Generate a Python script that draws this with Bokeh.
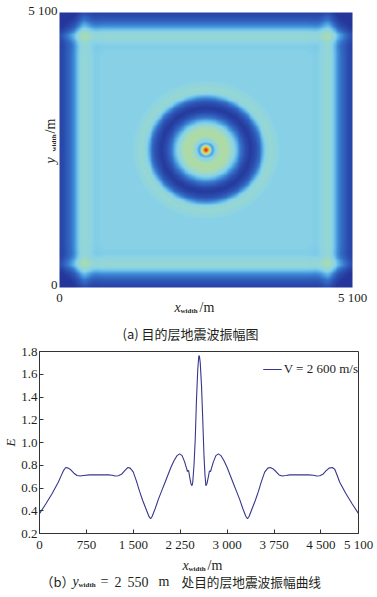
import numpy as np
from bokeh.plotting import figure
from bokeh.layouts import column
from bokeh.models import Range1d, FixedTicker, Label, LinearColorMapper, Legend, LegendItem
from bokeh.embed import file_html
from bokeh.resources import INLINE

# ---------------- data ----------------
x_m = [0, 100, 200, 300, 340, 380, 420, 460, 500, 550, 600, 650, 700, 800, 900, 1000,
       1100, 1160, 1210, 1260, 1310, 1360, 1410, 1450, 1500, 1550, 1600, 1650, 1700,
       1750, 1776, 1800, 1850, 1900, 1950, 2000, 2050, 2100, 2150, 2200, 2240, 2280,
       2320, 2350, 2365, 2375, 2385, 2400, 2420, 2438, 2450, 2470, 2490, 2510, 2530,
       2545, 2550, 2558, 2570, 2590, 2610, 2630, 2645, 2660, 2678, 2700, 2715, 2725,
       2735, 2750, 2780, 2820, 2860, 2900, 2950, 3000, 3050, 3100, 3150, 3200, 3250,
       3300, 3325, 3350, 3400, 3450, 3500, 3550, 3600, 3650, 3690, 3730, 3780, 3830,
       3880, 3940, 4000, 4100, 4200, 4300, 4380, 4430, 4480, 4530, 4580, 4630, 4680,
       4720, 4760, 4800, 4900, 5000, 5100]
e_vals = [0.375, 0.46, 0.55, 0.65, 0.70, 0.75, 0.78, 0.775, 0.76, 0.73, 0.71, 0.706,
          0.71, 0.715, 0.715, 0.715, 0.715, 0.712, 0.706, 0.708, 0.72, 0.75, 0.78,
          0.775, 0.74, 0.66, 0.57, 0.49, 0.42, 0.35, 0.33, 0.35, 0.42, 0.50, 0.57, 0.64,
          0.71, 0.78, 0.84, 0.885, 0.90, 0.885, 0.83, 0.775, 0.745, 0.755, 0.75, 0.70,
          0.64, 0.62, 0.65, 0.80, 1.03, 1.38, 1.64, 1.75, 1.765, 1.755, 1.70, 1.50,
          1.20, 0.88, 0.72, 0.62, 0.64, 0.70, 0.745, 0.75, 0.745, 0.775, 0.83, 0.885,
          0.90, 0.885, 0.84, 0.78, 0.71, 0.64, 0.57, 0.50, 0.42, 0.35, 0.33, 0.35,
          0.42, 0.49, 0.57, 0.66, 0.74, 0.775, 0.78, 0.77, 0.745, 0.715, 0.706, 0.71,
          0.715, 0.715, 0.715, 0.715, 0.712, 0.706, 0.708, 0.72, 0.75, 0.775, 0.78,
          0.765, 0.71, 0.65, 0.55, 0.46, 0.375]

side_m = 5100
center_m = 2550
plateau_e = 0.715
ring_extent_m = 1300
edge_extent_m = 1000

map_ticks = [0, 5100]
map_tick_labels = ["0", "5 100"]
x_ticks = [0, 750, 1500, 2250, 3000, 3750, 4500, 5100]
x_tick_labels = ["0", "750", "1 500", "2 250", "3 000", "3 750", "4 500", "5 100"]
e_ticks = [0.2, 0.4, 0.6, 0.8, 1.0, 1.2, 1.4, 1.6, 1.8]
e_tick_labels = ["0.2", "0.4", "0.6", "0.8", "1.0", "1.2", "1.4", "1.6", "1.8"]
legend_label = "V = 2 600 m/s"
caption_a = "(a) 目的层地震波振幅图"
caption_b_head = "（b）"
caption_b_tail = "处目的层地震波振幅曲线"

SERIF = "Liberation Serif"
CJK = "Noto Sans CJK SC"
TXT = "#231f20"

# ---------------- colour palette ----------------
anchors = [(0.30, "#25369a"), (0.45, "#2b4fb0"), (0.55, "#3570c8"), (0.62, "#4a9edf"),
           (0.68, "#72c4ea"), (0.72, "#8cd3e5"), (0.77, "#93d6d8"), (0.82, "#a4dabc"),
           (0.92, "#b2dc9c"), (1.10, "#e0e050"), (1.30, "#f6c030"), (1.50, "#f07020"),
           (1.80, "#c81818")]
lo, hi = 0.30, 1.80
def _rgb(h):
    return np.array([int(h[i:i + 2], 16) for i in (1, 3, 5)], float)
av = np.array([a[0] for a in anchors])
ac = np.array([_rgb(a[1]) for a in anchors])
palette = []
for t in np.linspace(lo, hi, 256):
    c = [np.interp(t, av, ac[:, k]) for k in range(3)]
    palette.append("#%02x%02x%02x" % tuple(int(round(v)) for v in c))
mapper = LinearColorMapper(palette=palette, low=lo, high=hi)

# ---------------- amplitude map from the profile ----------------
xa = np.array(x_m, float)
ea = np.array(e_vals, float)
n = 320
g = (np.arange(n) + 0.5) * side_m / n
GX, GY = np.meshgrid(g, g)
r = np.hypot(GX - center_m, GY - center_m)
rmask = (xa >= center_m) & (xa <= center_m + ring_extent_m)
R = np.interp(r, xa[rmask] - center_m, ea[rmask], right=plateau_e)
emask = xa <= edge_extent_m
dx = np.minimum(GX, side_m - GX)
dy = np.minimum(GY, side_m - GY)
BX = np.interp(dx, xa[emask], ea[emask], right=plateau_e)
BY = np.interp(dy, xa[emask], ea[emask], right=plateau_e)
E = R + BX + BY - 2 * plateau_e

def lab(fig, x, y, text, size, font=SERIF, style="normal", angle=0.0,
        align="left", baseline="alphabetic"):
    fig.add_layout(Label(x=x, y=y, text=text, text_font=font,
                         text_font_size=f"{size}px", text_font_style=style,
                         text_color=TXT, text_align=align, text_baseline=baseline,
                         angle=angle))

def bare_fig(w, h, xr, yr):
    f = figure(width=w, height=h, output_backend="svg", toolbar_location=None,
               x_range=xr, y_range=yr, x_axis_type=None, y_axis_type=None,
               min_border=0, min_border_left=0, min_border_right=0,
               min_border_top=0, min_border_bottom=0, frame_align=False)
    f.grid.visible = False
    f.outline_line_color = None
    return f

# ---------------- top figure: map (frame spans the whole canvas) ----------------
W1, H1 = 377, 344
X0, X1, Y0, Y1 = 59, 352, 287, 12          # pixel positions of 0 and 5100 on the map
sx = side_m / (X1 - X0)
sy = side_m / (Y0 - Y1)
p1 = bare_fig(W1, H1, Range1d(-X0 * sx, side_m + (W1 - X1) * sx),
              Range1d(-(H1 - Y0) * sy, side_m + Y1 * sy))
p1.image(image=[E], x=0, y=0, dw=side_m, dh=side_m, color_mapper=mapper)

def c1(px, py):
    return (px - X0) * sx, (Y0 - py) * sy

# tick labels of the map
for t, s in zip(map_ticks, map_tick_labels):
    _, yy = c1(0, 297)
    lab(p1, t, yy, s, 13, align="center", baseline="middle")
    xx, _ = c1(57, 0)
    lab(p1, xx, t + 2.5 * sy, s, 13, align="right", baseline="middle")

# x label: x_width/m
for px, py, text, size, style in [(174, 307, "x", 14, "italic"), (180, 310, "width", 7, "bold"),
                                  (199, 307, "/m", 14, "normal")]:
    xx, yy = c1(px, py)
    lab(p1, xx, yy, text, size, style=style)
# y label (rotated): y_width/m
for px, py, text, size, style in [(50, 163, "y", 14, "italic"), (53, 151, "width", 7, "bold"),
                                  (50, 133, "/m", 14, "normal")]:
    xx, yy = c1(px, py)
    lab(p1, xx, yy, text, size, style=style, angle=np.pi / 2)
# caption (a)
xx, yy = c1(190, 333)
lab(p1, xx, yy, caption_a, 13, font=CJK, align="center")

# ---------------- bottom figure: profile ----------------
W2, H2 = 377, 210
L2, R2, T2, B2 = 37, 19, 7, 18
p2 = figure(width=W2, height=H2, output_backend="svg", toolbar_location=None,
            x_range=Range1d(0, side_m), y_range=Range1d(0.2, 1.8), frame_align=False,
            min_border_left=L2, min_border_right=R2, min_border_top=T2, min_border_bottom=B2)
line = p2.line(x_m, e_vals, line_color="#36368c", line_width=1.1)
p2.grid.visible = False
p2.outline_line_color = "#333333"
p2.outline_line_width = 1
p2.xaxis[0].ticker = FixedTicker(ticks=x_ticks)
p2.xaxis[0].major_label_overrides = {t: l for t, l in zip(x_ticks, x_tick_labels)}
p2.yaxis[0].ticker = FixedTicker(ticks=e_ticks)
p2.yaxis[0].major_label_overrides = {t: l for t, l in zip(e_ticks, e_tick_labels)}
for ax in (p2.xaxis[0], p2.yaxis[0]):
    ax.major_tick_in = 4
    ax.major_tick_out = 0
    ax.minor_tick_line_color = None
    ax.axis_line_color = "#333333"
    ax.major_tick_line_color = "#333333"
    ax.major_label_text_font = SERIF
    ax.major_label_text_font_size = "13px"
    ax.major_label_text_color = TXT
p2.xaxis[0].major_label_standoff = 3
p2.yaxis[0].major_label_standoff = 2
p2.yaxis[0].axis_label = "E"
p2.yaxis[0].axis_label_text_font = SERIF
p2.yaxis[0].axis_label_text_font_style = "italic"
p2.yaxis[0].axis_label_text_font_size = "13px"
p2.yaxis[0].axis_label_text_color = TXT
p2.yaxis[0].axis_label_standoff = 0

legend = Legend(items=[LegendItem(label=legend_label, renderers=[line])],
                location="top_right", padding=6, margin=0, spacing=0,
                glyph_width=19, glyph_height=36, label_height=36, label_standoff=2,
                label_text_font=SERIF, label_text_font_size="13px",
                label_text_color=TXT, border_line_color=None,
                background_fill_alpha=0)
p2.add_layout(legend)

# ---------------- text strip below the profile ----------------
W3, H3 = 377, 597 - H1 - H2
TOP3 = H1 + H2
p3 = bare_fig(W3, H3, Range1d(0, W3), Range1d(H3, 0))

for px, py, text, size, style, font in [
        (182, 565, "x", 14, "italic", SERIF), (188, 568, "width", 7, "bold", SERIF),
        (207, 565, "/m", 14, "normal", SERIF),
        (40, 581, caption_b_head, 13, "normal", CJK), (72, 581, "y", 14, "italic", SERIF),
        (78, 584, "width", 7, "bold", SERIF), (100, 581, "=", 14, "normal", SERIF),
        (114, 581, "2", 14, "normal", SERIF), (127, 581, "550", 14, "normal", SERIF),
        (158, 581, "m", 14, "normal", SERIF),
        (181, 581, caption_b_tail, 12.7, "normal", CJK)]:
    lab(p3, px, py - TOP3, text, size, font=font, style=style)

layout = column(p1, p2, p3, spacing=0)
open("out.html", "w").write(file_html(layout, INLINE))
